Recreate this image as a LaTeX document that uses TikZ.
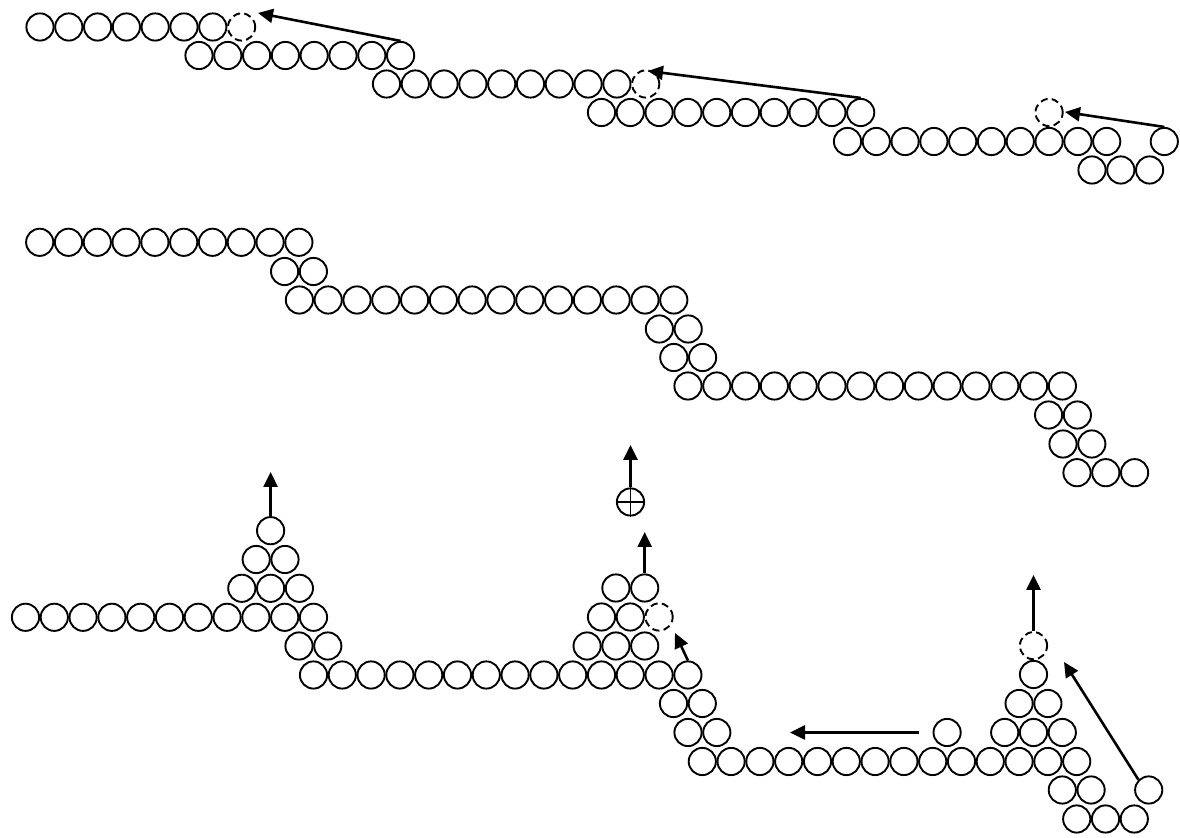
\documentclass[tikz,border=0pt]{standalone}
\usetikzlibrary{arrows.meta}

\begin{document}
\begin{tikzpicture}[
  x=0.5pt, y=-0.5pt,
  atom/.style={
    draw=black, circle, line width=0.95pt,
    minimum size=13.6pt, inner sep=0pt
  },
  vacancy/.style={atom, dash pattern=on 3.6pt off 2.1pt},
  hop/.style={-{Triangle[length=7.5pt,width=7pt]}, line width=1.3pt}
]
\useasboundingbox (0,0) rectangle (1180,838);

% Top panel: four terraces, three atoms hopping onto the upper step.
\foreach \k in {0,...,6} \node[atom] (ta-\k) at ({40+28.8*\k},27) {};
\node[vacancy] (vacA) at ({40+28.8*7},27) {};
\foreach \k in {0,...,7} \node[atom] (tb-\k) at ({199+28.8*\k},55.5) {};
\foreach \k in {0,...,8} \node[atom] (tc-\k) at ({386.5+28.8*\k},84) {};
\node[vacancy] (vacC) at ({386.5+28.8*9},84) {};
\foreach \k in {0,...,9} \node[atom] (td-\k) at ({601.5+28.8*\k},112.5) {};
\node[vacancy] (vacE) at ({847.5+28.8*7},112.5) {};
\foreach \k in {0,...,9} \node[atom] (te-\k) at ({847.5+28.8*\k},141.5) {};
\node[atom] (tekink) at ({847.5+28.8*11},141.5) {};
\foreach \k in {0,1,2} \node[atom] (tf-\k) at ({1092+28.8*\k},170) {};

\coordinate (tipA) at (258,13);
\coordinate (tipC) at (648,71);
\coordinate (tipE) at (1065,112);
\draw[hop] (tb-7.north) -- (tipA);
\draw[hop] (td-9.north) -- (tipC);
\draw[hop] (tekink.north) -- (tipE);

% Middle panel: double steps.
\foreach \k in {0,...,9} \node[atom] (m1-\k) at ({39.7+28.8*\k},242.3) {};
\foreach \k in {0,1} \node[atom] (m2-\k) at ({284.6+28.8*\k},271.5) {};
\foreach \k in {0,...,13} \node[atom] (m3-\k) at ({299.4+28.8*\k},300) {};
\foreach \k in {0,1} \node[atom] (m4-\k) at ({659.4+28.8*\k},329) {};
\foreach \k in {0,1} \node[atom] (m5-\k) at ({673.8+28.8*\k},357.5) {};
\foreach \k in {0,...,13} \node[atom] (m6-\k) at ({688+28.8*\k},386) {};
\foreach \k in {0,1} \node[atom] (m7-\k) at ({1048.6+28.8*\k},415) {};
\foreach \k in {0,1} \node[atom] (m8-\k) at ({1063+28.8*\k},444) {};
\foreach \k in {0,1,2} \node[atom] (m9-\k) at ({1077+28.8*\k},472.7) {};

% Bottom panel: pyramids growing on the step edges.
\foreach \k in {0,...,10} \node[atom] (b1-\k) at ({25.5+28.8*\k},617.3) {};
\foreach \k in {0,1,2} \node[atom] (p1a-\k) at ({241.8+28.8*\k},588.3) {};
\foreach \k in {0,1} \node[atom] (p1b-\k) at ({256.2+28.8*\k},559.5) {};
\node[atom] (p1top) at (270.6,530.7) {};
\foreach \k in {0,1} \node[atom] (b2-\k) at ({299+28.8*\k},646) {};
\foreach \k in {0,...,13} \node[atom] (b3-\k) at ({313.5+28.8*\k},675) {};
\foreach \k in {0,1,2} \node[atom] (p2a-\k) at ({587.1+28.8*\k},646) {};
\foreach \k in {0,1} \node[atom] (p2b-\k) at ({601.5+28.8*\k},617) {};
\node[vacancy] (vacP2) at (659.1,617) {};
\foreach \k in {0,1} \node[atom] (p2c-\k) at ({615.9+28.8*\k},588) {};
\node[atom] (plus) at (630.5,502) {};
\draw[line width=0.95pt] (plus.north) -- (plus.south) (plus.west) -- (plus.east);
\foreach \k in {0,1} \node[atom] (b4-\k) at ({673.5+28.8*\k},703.5) {};
\foreach \k in {0,1} \node[atom] (b5-\k) at ({688+28.8*\k},732.5) {};
\foreach \k in {0,...,13} \node[atom] (b6-\k) at ({702.3+28.8*\k},761.5) {};
\node[atom] (adatom) at (947.1,732.5) {};
\foreach \k in {0,1,2} \node[atom] (p3a-\k) at ({1004.7+28.8*\k},732.5) {};
\foreach \k in {0,1} \node[atom] (p3b-\k) at ({1019.1+28.8*\k},703.5) {};
\node[atom] (p3top) at (1033.5,674.5) {};
\node[vacancy] (vacP3) at (1033.5,645.7) {};
\foreach \k in {0,1} \node[atom] (b7-\k) at ({1062.3+28.8*\k},790) {};
\node[atom] (kink) at (1148.7,790) {};
\foreach \k in {0,1,2} \node[atom] (b8-\k) at ({1076.7+28.8*\k},819) {};

\coordinate (upP1) at (270.6,472);
\coordinate (upP2) at (644.7,532);
\coordinate (upPlus) at (630.5,445);
\coordinate (tipP2) at (675,633);
\coordinate (slideend) at (790,732.5);
\coordinate (upP3) at (1033.5,575);
\coordinate (tipP3) at (1064,662);
\draw[hop] (p1top.north) -- (upP1);
\draw[hop] (p2c-1.north) -- (upP2);
\draw[hop] (plus.north) -- (upPlus);
\draw[hop] (b3-13.north) -- (tipP2);
\draw[hop] ([xshift=-7pt]adatom.west) -- (slideend);
\draw[hop] (vacP3.north) -- (upP3);
\draw[hop] (kink.north west) -- (tipP3);

\end{tikzpicture}
\end{document}
